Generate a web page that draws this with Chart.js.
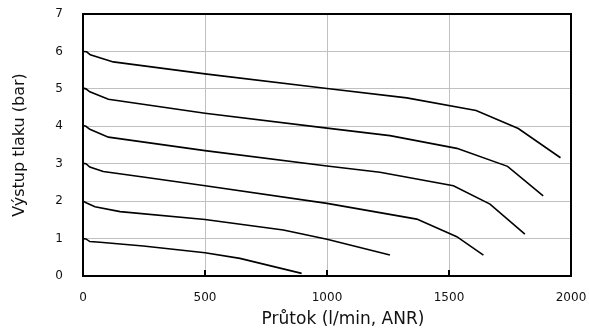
<!DOCTYPE html>
<html>
<head>
<meta charset="utf-8">
<script src="https://cdn.jsdelivr.net/npm/chart.js@4.4.0/dist/chart.umd.min.js"></script>
<style>
  body { margin: 0; background: #fff; }
  #wrap { width: 589px; height: 334px; }
</style>
</head>
<body>
<div id="wrap"><canvas id="chart" width="589" height="334"></canvas></div>
<script>
// průtok (l/min, ANR) a výstupní tlak (bar) pro jednotlivé křivky
const flow6 = [0, 15, 30, 124, 500, 1000, 1327, 1611, 1784, 1957];
const pressure6 = [6.0, 5.99, 5.91, 5.72, 5.40, 5.01, 4.76, 4.42, 3.94, 3.16];

const flow5 = [0, 12, 28, 104, 500, 1000, 1258, 1532, 1740, 1886];
const pressure5 = [5.02, 5.0, 4.92, 4.72, 4.35, 3.95, 3.75, 3.41, 2.93, 2.14];

const flow4 = [0, 12, 28, 104, 500, 1000, 1217, 1518, 1668, 1811];
const pressure4 = [4.02, 4.0, 3.92, 3.71, 3.35, 2.94, 2.77, 2.41, 1.92, 1.12];

const flow3 = [0, 12, 28, 83, 261, 501, 1000, 1368, 1532, 1641];
const pressure3 = [3.01, 3.0, 2.91, 2.79, 2.63, 2.41, 1.94, 1.52, 1.05, 0.56];

const flow2 = [0, 15, 49, 152, 500, 821, 1000, 1258];
const pressure2 = [2.0, 1.95, 1.85, 1.72, 1.51, 1.23, 0.98, 0.56];

const flow1 = [0, 12, 28, 70, 247, 500, 643, 896];
const pressure1 = [1.0, 0.99, 0.92, 0.90, 0.80, 0.62, 0.47, 0.07];

const curves = [
    [flow6, pressure6], [flow5, pressure5], [flow4, pressure4],
    [flow3, pressure3], [flow2, pressure2], [flow1, pressure1]
];

const xTitle = 'Průtok (l/min, ANR)';
const yTitle = 'Výstup tlaku (bar)';

const FONT = 'DejaVu Sans';

// pevná velikost os, bez automatického odsazení od popisků
const fitAxis = (w, h) => s => {
    if (w) s.width = w;
    if (h) s.height = h;
    s.paddingTop = s.paddingBottom = s.paddingLeft = s.paddingRight = 0;
};

// rámeček kolem grafu, krátké značky na ose x a popis osy x (v originále posunutý doprava)
const frame = {
    id: 'frame',
    afterDraw(chart) {
        const { ctx, chartArea: a, scales: { x } } = chart;
        ctx.save();
        ctx.strokeStyle = '#000';
        ctx.lineWidth = 2;
        ctx.strokeRect(a.left, a.top, a.width, a.height);
        x.ticks.forEach(t => {
            if (t.value <= x.min || t.value >= x.max) return;
            const px = x.getPixelForValue(t.value);
            ctx.beginPath();
            ctx.moveTo(px, a.bottom);
            ctx.lineTo(px, a.bottom - 6);
            ctx.stroke();
        });
        ctx.fillStyle = '#111';
        ctx.font = '17px "' + FONT + '"';
        ctx.textAlign = 'center';
        ctx.textBaseline = 'middle';
        ctx.fillText(xTitle, (a.left + a.right) / 2 + 16, chart.height - 14);
        ctx.restore();
    }
};

new Chart(document.getElementById('chart'), {
    type: 'line',
    data: {
        datasets: curves.map(([f, p]) => ({
            data: f.map((v, i) => ({ x: v, y: p[i] })),
            borderColor: '#000',
            borderWidth: 1.6,
            pointRadius: 0,
            tension: 0,
            fill: false
        }))
    },
    options: {
        responsive: false,
        animation: false,
        devicePixelRatio: 1,
        layout: { padding: { top: 14, right: 18, left: 0, bottom: 0 } },
        plugins: { legend: { display: false }, tooltip: { enabled: false } },
        scales: {
            x: {
                type: 'linear',
                min: 0,
                max: 2000,
                afterFit: fitAxis(0, 58),
                border: { display: false },
                grid: { color: '#c0c0c0', lineWidth: 1, drawTicks: false },
                ticks: { stepSize: 500, padding: 15, color: '#111', font: { family: FONT, size: 12 }, callback: v => String(v) }
            },
            y: {
                min: 0,
                max: 7,
                afterFit: fitAxis(83, 0),
                border: { display: false },
                grid: { color: '#c0c0c0', lineWidth: 1, drawTicks: false },
                ticks: { stepSize: 1, padding: 20, color: '#111', font: { family: FONT, size: 12 } },
                title: {
                    display: true,
                    text: yTitle,
                    color: '#111',
                    font: { family: FONT, size: 16 },
                    padding: { top: 10, bottom: 0 }
                }
            }
        }
    },
    plugins: [frame]
});
</script>
</body>
</html>
